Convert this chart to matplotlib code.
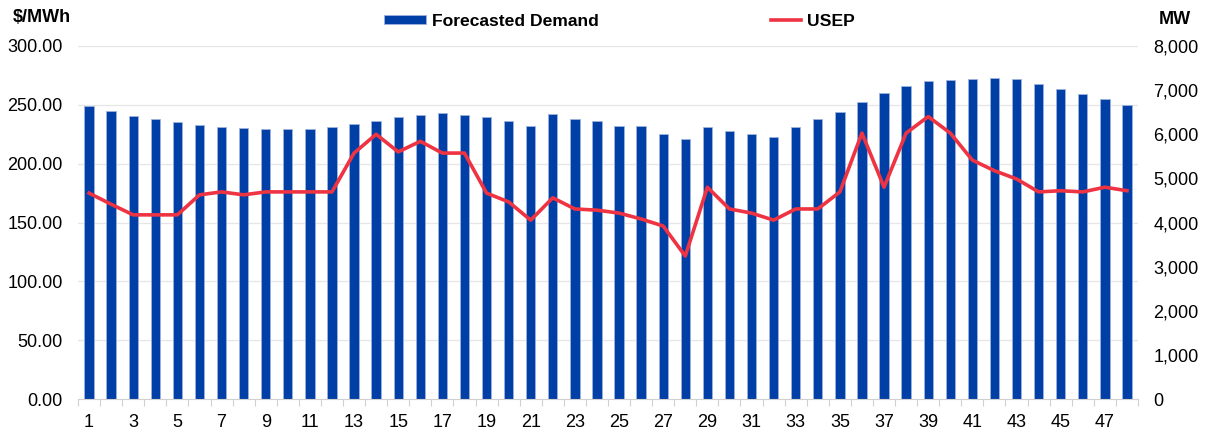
import numpy as np
import matplotlib
matplotlib.use("Agg")
import matplotlib.pyplot as plt
from matplotlib.ticker import FuncFormatter, MultipleLocator, FixedLocator

plt.rcParams['font.family'] = ['Liberation Sans', 'DejaVu Sans']

periods = list(range(1, 49))
demand_mw = [6640, 6530, 6420, 6350, 6280, 6210, 6170, 6145, 6120, 6120,
             6120, 6170, 6240, 6300, 6390, 6440, 6485, 6440, 6390, 6300,
             6190, 6460, 6350, 6300, 6190, 6190, 6010, 5900, 6170, 6080,
             6010, 5940, 6170, 6350, 6510, 6735, 6940, 7100, 7210, 7235,
             7255, 7280, 7255, 7145, 7030, 6915, 6805, 6665]
usep = [175.0, 165.5, 156.5, 156.5, 156.5, 173.5, 176.0, 173.5, 176.0, 176.0,
        176.0, 176.0, 209.0, 225.0, 210.0, 219.0, 209.0, 209.0, 175.0, 167.5,
        152.0, 171.0, 161.5, 160.5, 158.0, 153.0, 147.0, 121.5, 180.0, 161.5,
        158.0, 152.0, 161.5, 161.5, 176.0, 226.0, 180.0, 226.0, 240.0, 226.0,
        203.0, 194.0, 187.0, 176.0, 177.0, 176.0, 180.0, 177.0]

bar_color = '#003FA6'
line_color = '#EE3342'
grid_color = '#E6E6E6'
fs = 13

fig = plt.figure(figsize=(12.07, 4.32), dpi=100)
ax = fig.add_axes([78 / 1207, 1 - 399 / 432, 1060 / 1207, 353 / 432])
ax2 = ax.twinx()

x = np.arange(len(periods))
price_max, mw_max = 300, 8000

# gridlines follow the $/MWh axis but sit behind the bars
for v in range(50, price_max + 1, 50):
    ax2.axhline(v * mw_max / price_max, color=grid_color, lw=0.9, zorder=0)

ax2.bar(x, demand_mw, width=0.42, color=bar_color, edgecolor='#9DB3DF',
        linewidth=0.6, label='Forecasted Demand', zorder=2)
ax2.set_ylim(0, mw_max)
ax2.yaxis.set_major_locator(MultipleLocator(1000))
ax2.yaxis.set_major_formatter(FuncFormatter(lambda v, p: f'{int(v):,}'))

ax.set_zorder(ax2.get_zorder() + 1)
ax.patch.set_visible(False)
ax.plot(x, usep, color=line_color, lw=2.6, label='USEP', zorder=3)
ax.set_ylim(0, price_max)
ax.yaxis.set_major_locator(MultipleLocator(50))
ax.yaxis.set_major_formatter(FuncFormatter(lambda v, p: f'{v:.2f}'))

ax.set_xlim(-0.5, len(periods) - 0.5)
ax.xaxis.set_major_locator(FixedLocator(x[::2]))
ax.set_xticklabels([str(p) for p in periods[::2]])
ax.xaxis.set_minor_locator(FixedLocator(np.arange(-0.5, len(periods), 1)))
ax.tick_params(axis='x', which='major', length=0, pad=11, labelsize=fs)
ax.tick_params(axis='x', which='minor', length=5, color='#D0D0D0', width=0.8)
ax.tick_params(axis='y', length=0, labelsize=fs, pad=11)
ax2.tick_params(axis='y', length=0, labelsize=fs, pad=11)

for a in (ax, ax2):
    for s in ('top', 'left', 'right'):
        a.spines[s].set_visible(False)
ax.spines['bottom'].set_color('#D0D0D0')
ax2.spines['bottom'].set_visible(False)

fig.text(13 / 1207, 1 - 18 / 432, '$/MWh', fontsize=fs, fontweight='bold',
         va='center', ha='left')
fig.text(1191 / 1207, 1 - 20 / 432, 'MW', fontsize=fs, fontweight='bold',
         va='center', ha='right')

fig.legend(handles=ax2.get_legend_handles_labels()[0],
           labels=['Forecasted Demand'], loc='center left',
           bbox_to_anchor=(368 / 1207, 1 - 21 / 432), frameon=False,
           prop={'weight': 'bold', 'size': 12.6}, handlelength=2.4,
           handleheight=0.45, handletextpad=0.35)
fig.legend(handles=ax.get_legend_handles_labels()[0],
           labels=['USEP'], loc='center left',
           bbox_to_anchor=(755 / 1207, 1 - 21 / 432), frameon=False,
           prop={'weight': 'bold', 'size': 12.6}, handlelength=1.75,
           handletextpad=0.3)

fig.savefig('out.png', dpi=100)
